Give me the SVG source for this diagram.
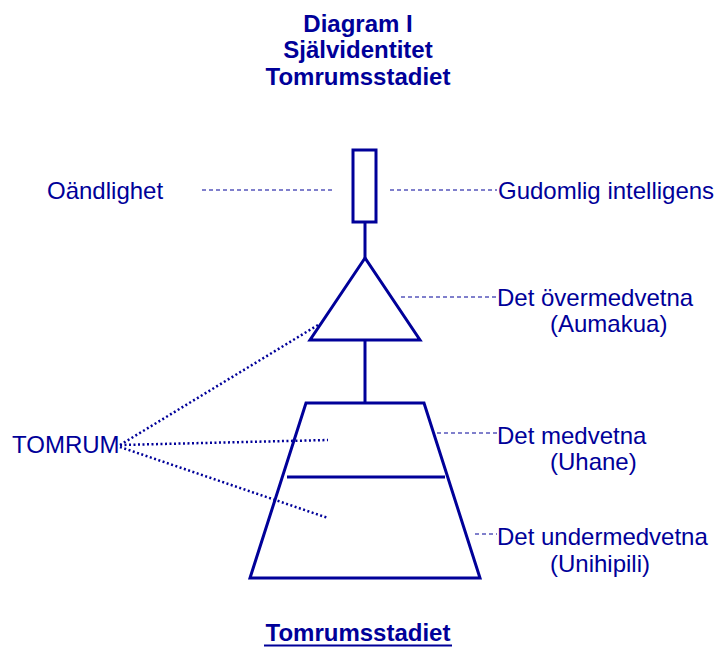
<svg xmlns="http://www.w3.org/2000/svg" width="714" height="648" viewBox="0 0 714 648">
<style>
text{font-family:"Liberation Sans",Arial,sans-serif;fill:#000099;font-size:24px}
.t{font-weight:bold;text-anchor:middle}
.s{fill:none;stroke:#000099;stroke-width:3}
.d{stroke:#000099;stroke-width:1;stroke-dasharray:4 3;fill:none}
.o{stroke:#000099;stroke-width:2.5;stroke-dasharray:2 2.5;fill:none}
</style>
<rect width="714" height="648" fill="#fff"/>
<g id="title">
<text class="t" x="358" y="32">Diagram I</text>
<text class="t" x="358" y="58">Självidentitet</text>
<text class="t" x="358" y="85">Tomrumsstadiet</text>
</g>
<g id="connectors">
<line class="s" x1="365" y1="222" x2="365" y2="258"/>
<line class="s" x1="365" y1="340" x2="365" y2="403"/>
<line class="d" x1="202" y1="190" x2="333" y2="190"/>
<line class="d" x1="390" y1="190" x2="497" y2="190"/>
<line class="d" x1="401" y1="297" x2="497" y2="297"/>
<line class="d" x1="437" y1="433" x2="497" y2="433"/>
<line class="d" x1="475" y1="534" x2="497" y2="534"/>
<line class="o" x1="120" y1="445" x2="318" y2="325"/>
<line class="o" x1="120" y1="445" x2="328" y2="440"/>
<line class="o" x1="120" y1="447" x2="328" y2="518"/>
</g>
<g id="rect-node"><rect class="s" x="353" y="150" width="23" height="72"/></g>
<g id="triangle-node"><polygon class="s" points="365,258 310,340 420,340"/></g>
<g id="trapezoid-node">
<polygon class="s" points="306,403 424,403 480,578 250,578"/>
<line class="s" x1="287" y1="477" x2="445" y2="477"/>
</g>
<g id="labels">
<text x="47" y="199">Oändlighet</text>
<text x="498" y="199">Gudomlig intelligens</text>
<text x="497" y="306">Det övermedvetna</text>
<text x="550" y="332">(Aumakua)</text>
<text x="497" y="444">Det medvetna</text>
<text x="550" y="470">(Uhane)</text>
<text x="497" y="545">Det undermedvetna</text>
<text x="550" y="572">(Unihipili)</text>
<text x="12" y="453">TOMRUM</text>
</g>
<g id="footer">
<text class="t" x="358" y="641">Tomrumsstadiet</text>
<line x1="264" y1="645.5" x2="452" y2="645.5" stroke="#000099" stroke-width="2"/>
</g>
</svg>
